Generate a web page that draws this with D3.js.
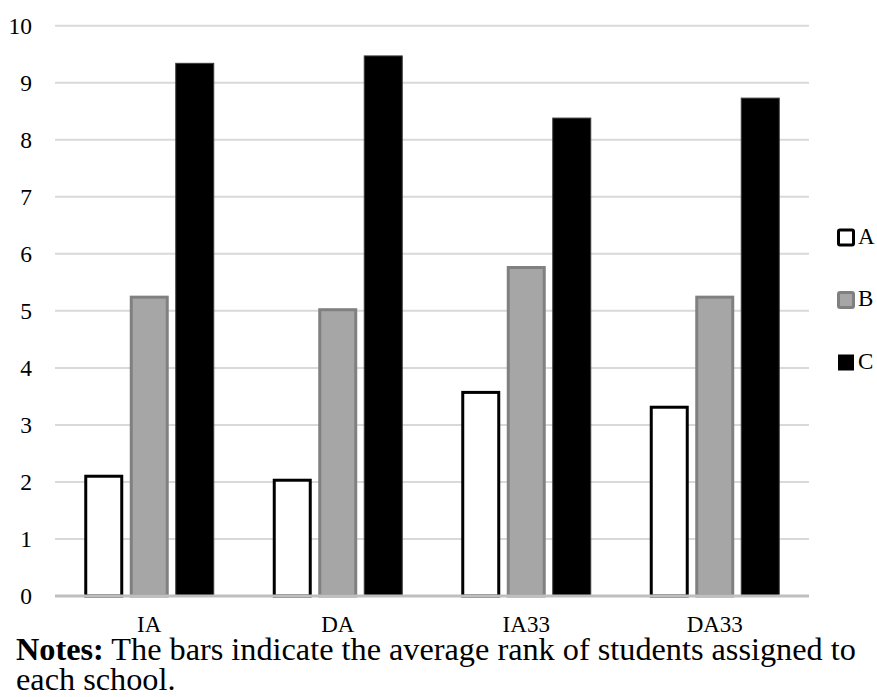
<!DOCTYPE html>
<html>
<head>
<meta charset="utf-8">
<script src="https://cdn.jsdelivr.net/npm/d3@7/dist/d3.min.js"></script>
<style>
  html, body { margin: 0; padding: 0; background: #fff; }
  svg { display: block; }
  text { font-family: "Liberation Serif", "DejaVu Serif", serif; fill: #000; }
</style>
</head>
<body>
<svg id="chart" width="877" height="697"></svg>
<script>
const categories = ["IA", "DA", "IA33", "DA33"];
const seriesNames = ["A", "B", "C"];
const valuesA = [2.10, 2.03, 3.57, 3.31];
const valuesB = [5.24, 5.02, 5.76, 5.24];
const valuesC = [9.34, 9.47, 8.38, 8.73];
const yTicks = [0, 1, 2, 3, 4, 5, 6, 7, 8, 9, 10];
const noteBold = "Notes:";
const noteLine1 = " The bars indicate the average rank of students assigned to";
const noteLine2 = "each school.";

(function () {
const seriesValues = { A: valuesA, B: valuesB, C: valuesC };
const styles = {
  A: { fill: "#ffffff", stroke: "#000000", sw: 3 },
  B: { fill: "#a6a6a6", stroke: "#808080", sw: 3 },
  C: { fill: "#000000", stroke: "#3a3a3a", sw: 1 }
};

const svg = d3.select("#chart");
const mLeft = 55, mRight = 809, mTop = 25.7, mBottom = 596;

const y = d3.scaleLinear().domain([0, 10]).range([mBottom, mTop]);
const x0 = d3.scaleBand().domain(categories).range([mLeft, mRight]).padding(0);
const x1 = d3.scaleBand().domain(seriesNames).range([26, 162.5])
  .paddingInner(0.143).paddingOuter(0.0715);

// gridlines
svg.append("g").selectAll("line").data(yTicks.filter(t => t > 0)).join("line")
  .attr("x1", mLeft).attr("x2", mRight)
  .attr("y1", d => y(d)).attr("y2", d => y(d))
  .attr("stroke", "#d9d9d9").attr("stroke-width", 2);

// y labels
svg.append("g").selectAll("text").data(yTicks).join("text")
  .attr("x", 32).attr("y", d => y(d))
  .attr("dy", "0.34em")
  .attr("text-anchor", "end")
  .attr("font-size", 23.5)
  .text(d => d);

// bars
const groups = svg.append("g").selectAll("g").data(categories).join("g")
  .attr("transform", d => `translate(${x0(d)},0)`);

groups.selectAll("rect").data((c, i) => seriesNames.map(s => ({ s, v: seriesValues[s][i] })))
  .join("rect")
  .attr("x", d => x1(d.s) + styles[d.s].sw / 2)
  .attr("width", d => x1.bandwidth() - styles[d.s].sw)
  .attr("y", d => y(d.v))
  .attr("height", d => y(0) - y(d.v))
  .attr("fill", d => styles[d.s].fill)
  .attr("stroke", d => styles[d.s].stroke)
  .attr("stroke-width", d => styles[d.s].sw);

// baseline
svg.append("line")
  .attr("x1", mLeft).attr("x2", mRight)
  .attr("y1", y(0)).attr("y2", y(0))
  .attr("stroke", "#bfbfbf").attr("stroke-width", 3);

// category labels
svg.append("g").selectAll("text").data(categories).join("text")
  .attr("x", d => x0(d) + x0.bandwidth() / 2)
  .attr("y", 632)
  .attr("text-anchor", "middle")
  .attr("font-size", 23)
  .text(d => d);

// legend
const legendY = [237.5, 300, 362.5];
const lg = svg.append("g").selectAll("g").data(seriesNames).join("g")
  .attr("transform", (d, i) => `translate(0,${legendY[i]})`);
lg.append("rect")
  .attr("x", d => d === "C" ? 838 : 838.5)
  .attr("y", d => d === "C" ? -8 : -7.5)
  .attr("width", d => d === "C" ? 16 : 15)
  .attr("height", d => d === "C" ? 16 : 15)
  .attr("rx", d => d === "C" ? 0 : 1.5)
  .attr("fill", d => styles[d].fill)
  .attr("stroke", d => d === "C" ? "none" : styles[d].stroke)
  .attr("stroke-width", 3);
lg.append("text")
  .attr("x", 858).attr("y", 6)
  .attr("font-size", 23)
  .text(d => d);

// notes
const n1 = svg.append("text").attr("x", 16).attr("y", 660).attr("font-size", 27);
n1.append("tspan").attr("font-weight", "bold").text(noteBold);
n1.append("tspan").text(noteLine1);
const w = n1.node().getComputedTextLength();
const fs = 27 * 840 / w;
n1.attr("font-size", fs);
svg.append("text").attr("x", 16).attr("y", 690).attr("font-size", fs).text(noteLine2);
})();
</script>
</body>
</html>
